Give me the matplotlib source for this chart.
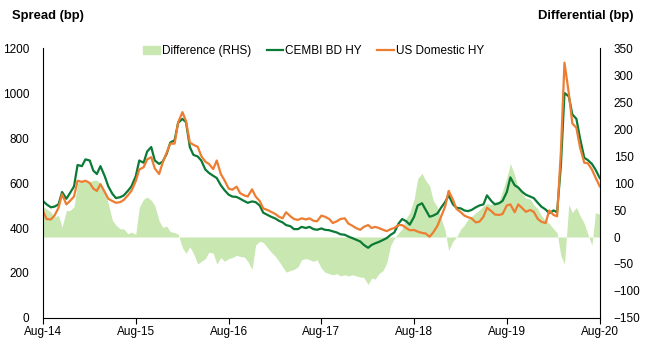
import numpy as np
import pandas as pd
import matplotlib
matplotlib.use('Agg')
import matplotlib.pyplot as plt
import matplotlib.dates as mdates
from matplotlib.patches import Patch
from matplotlib.lines import Line2D

plt.rcParams['font.family'] = ['Liberation Sans', 'DejaVu Sans']
plt.rcParams['font.size'] = 8.5

# semi-monthly observations, Aug-14 .. Aug-20
dates = pd.date_range("2014-08-01", "2020-08-01", freq="SMS")

cembi = [520, 505, 492, 495, 505, 560, 530, 555, 585, 680, 675, 705, 700, 655, 640, 675, 630, 585, 552, 533, 537, 545, 565, 585, 630,
         700, 690, 740, 760, 700, 685, 695, 730, 780, 790, 868, 885, 870, 760, 725, 718, 700, 660, 645, 632, 622, 590, 569, 548,
         540, 538, 530, 520, 512, 518, 515, 500, 468, 458, 450, 442, 432, 425, 413, 408, 395, 395, 405, 400, 405, 395, 392, 398,
         392, 390, 385, 380, 372, 370, 362, 355, 348, 340, 325, 312, 325, 332, 338, 347, 355, 370, 380, 420, 440, 430, 415, 450,
         500, 510, 482, 450, 455, 465, 490, 515, 545, 505, 490, 487, 478, 475, 480, 492, 500, 505, 545, 520, 505, 510, 520, 560,
         625, 590, 580, 560, 548, 540, 533, 512, 495, 482, 466, 478, 470, 680, 1000, 985, 905, 885, 800, 712, 702, 685, 660, 622]

us_hy = [475, 440, 438, 455, 490, 550, 505, 520, 540, 610, 605, 610, 600, 575, 565, 595, 560, 530, 520, 512, 515, 525, 545, 565, 608,
         660, 670, 705, 715, 665, 640, 690, 735, 775, 775, 870, 915, 875, 780, 770, 761, 720, 695, 685, 662, 700, 640, 613, 575,
         570, 584, 555, 545, 540, 572, 540, 520, 487, 480, 472, 462, 450, 443, 470, 452, 440, 436, 443, 438, 443, 432, 430, 455,
         450, 440, 422, 430, 440, 443, 420, 410, 400, 392, 405, 413, 400, 405, 400, 392, 386, 395, 400, 413, 413, 400, 390, 391,
         384, 378, 376, 361, 380, 410, 450, 495, 565, 525, 485, 470, 455, 448, 443, 425, 428, 450, 490, 475, 460, 458, 462, 500,
         505, 470, 505, 488, 472, 480, 472, 440, 428, 422, 478, 458, 452, 740, 1135, 1000, 865, 845, 760, 690, 688, 660, 625, 585]

diff = [56, 52, 46, 37, 40, 18, 49, 49, 56, 99, 105, 102, 102, 105, 105, 99, 83, 62, 31, 22, 15, 15, 6, 9, 5,
        55, 70, 74, 68, 58, 30, 18, 20, 10, 8, 5, -20, -30, -18, -30, -50, -45, -40, -28, -30, -50, -38, -45, -40,
        -38, -34, -36, -37, -45, -60, -15, -8, -10, -20, -28, -36, -45, -55, -65, -62, -60, -55, -42, -40, -42, -45, -42, -58,
        -65, -68, -70, -68, -72, -70, -72, -70, -72, -74, -75, -88, -76, -78, -68, -62, -48, -15, -3, 8, 15, 35, 45, 70,
        108, 118, 105, 95, 68, 55, 35, 12, -25, -8, 0, 15, 22, 33, 38, 45, 50, 58, 62, 60, 65, 66, 85, 110,
        136, 115, 90, 80, 72, 70, 60, 52, 40, 30, 25, 15, 8, -35, -50, 60, 45, 55, 40, 25, 5, -15, 45, 42]

c_fill = '#c9e7b1'
c_cembi = '#0b7a36'
c_us = '#ed7d31'

fig = plt.figure(figsize=(6.47, 3.52), dpi=100)
ax = fig.add_axes([0.0665, 0.0966, 0.8605, 0.767])
ax2 = ax.twinx()
ax.set_zorder(ax2.get_zorder() + 1)
ax.patch.set_visible(False)

ax2.fill_between(dates, 0, diff, color=c_fill, linewidth=0)
ax.plot(dates, cembi, color=c_cembi, lw=1.6)
ax.plot(dates, us_hy, color=c_us, lw=1.6)

ax.set_ylim(0, 1200)
ax.set_yticks(range(0, 1201, 200))
ax2.set_ylim(-150, 350)
ax2.set_yticks(range(-150, 351, 50))
ax.set_xlim(dates[0], dates[-1])
ax.set_xticks(pd.date_range("2014-08-01", "2020-08-01", freq="12MS"))
ax.xaxis.set_major_formatter(mdates.DateFormatter('%b-%y'))

for s in ['top', 'right']:
    ax.spines[s].set_visible(False)
for s in ['top', 'left', 'bottom']:
    ax2.spines[s].set_visible(False)
ax.spines['left'].set_color('black')
ax.spines['bottom'].set_color('black')
ax2.spines['right'].set_color('black')
ax.tick_params(axis='y', length=0, pad=10)
ax2.tick_params(axis='y', length=0, pad=10)
ax.tick_params(axis='x', length=4, direction='out', pad=2)

fig.text(0.019, 0.955, 'Spread (bp)', fontweight='bold', fontsize=9.4, va='center')
fig.text(0.979, 0.955, 'Differential (bp)', fontweight='bold', fontsize=9.4, va='center', ha='right')

handles = [Patch(color=c_fill), Line2D([], [], color=c_cembi, lw=1.6), Line2D([], [], color=c_us, lw=1.6)]
labels = ['Difference (RHS)', 'CEMBI BD HY', 'US Domestic HY']
ax.legend(handles, labels, loc='center', bbox_to_anchor=(0.485, 0.855), bbox_transform=fig.transFigure,
          ncol=3, frameon=False, handlelength=1.4, handletextpad=0.2, columnspacing=1.3)

plt.savefig('out.png', dpi=100)
